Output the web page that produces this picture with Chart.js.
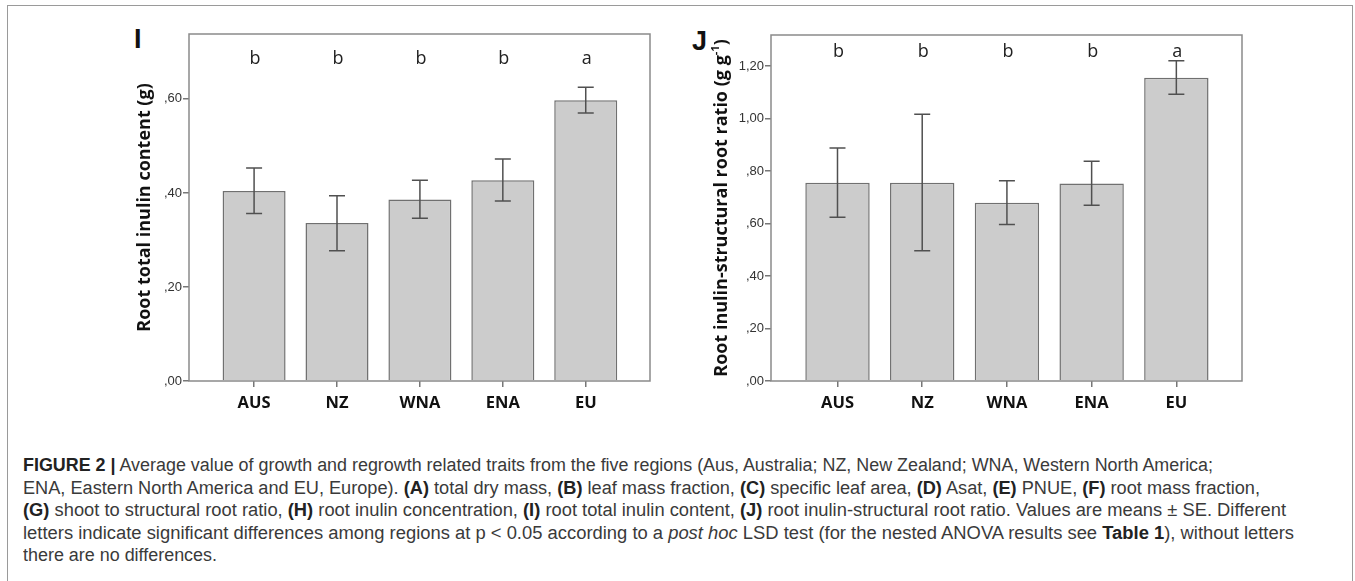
<!DOCTYPE html>
<html>
<head>
<meta charset="utf-8">
<script src="https://cdn.jsdelivr.net/npm/chart.js@4.4.0/dist/chart.umd.min.js"></script>
<style>
  body { margin: 0; background: #fff; width: 1355px; height: 581px; overflow: hidden; position: relative; font-family: "Open Sans", sans-serif; }
  .frame { position: absolute; left: 7px; top: 5px; width: 1344px; height: 600px; border: 1.5px solid #9a9a9a; border-bottom: none; }
  .panel { position: absolute; font-family: "Liberation Sans", Arial, sans-serif; font-weight: bold; font-size: 27px; color: #111; line-height: 1; }
  canvas { position: absolute; }
  .caption { position: absolute; left: 23px; top: 454px; font-family: "Liberation Sans", Arial, sans-serif; font-size: 18px; line-height: 22.6px; color: #3a3a3a; white-space: nowrap; }
  .caption .line { display: block; height: 22.6px; }
  .caption .line span { display: inline-block; transform-origin: 0 50%; }
  .caption b { color: #222; }
</style>
</head>
<body>
<div class="frame"></div>
<div class="panel" style="left:134px; top:26px;">I</div>
<div class="panel" style="left:692px; top:28px;">J</div>
<canvas id="chartI" width="570" height="420" style="left:100px; top:20px;"></canvas>
<canvas id="chartJ" width="580" height="420" style="left:680px; top:20px;"></canvas>
<div class="caption">
<div class="line"><span data-w="1190"><b>FIGURE 2 |</b> Average value of growth and regrowth related traits from the five regions (Aus, Australia; NZ, New Zealand; WNA, Western North America;</span></div>
<div class="line"><span data-w="1237">ENA, Eastern North America and EU, Europe). <b>(A)</b> total dry mass, <b>(B)</b> leaf mass fraction, <b>(C)</b> specific leaf area, <b>(D)</b> Asat, <b>(E)</b> PNUE, <b>(F)</b> root mass fraction,</span></div>
<div class="line"><span data-w="1263"><b>(G)</b> shoot to structural root ratio, <b>(H)</b> root inulin concentration, <b>(I)</b> root total inulin content, <b>(J)</b> root inulin-structural root ratio. Values are means ± SE. Different</span></div>
<div class="line"><span data-w="1271">letters indicate significant differences among regions at p &lt; 0.05 according to a <i>post hoc</i> LSD test (for the nested ANOVA results see <b>Table 1</b>), without letters</span></div>
<div class="line"><span data-w="194">there are no differences.</span></div>
</div>
<script>
// data
const categories = ['AUS', 'NZ', 'WNA', 'ENA', 'EU'];
const letters = ['b', 'b', 'b', 'b', 'a'];

const inulinContent = [0.404, 0.336, 0.386, 0.427, 0.597];
const inulinContentLow = [0.356, 0.277, 0.346, 0.383, 0.570];
const inulinContentHigh = [0.453, 0.394, 0.427, 0.472, 0.625];
const inulinContentTicks = [0, 0.2, 0.4, 0.6];

const inulinRatio = [0.755, 0.755, 0.679, 0.752, 1.155];
const inulinRatioLow = [0.624, 0.496, 0.596, 0.669, 1.092];
const inulinRatioHigh = [0.888, 1.016, 0.763, 0.837, 1.220];
const inulinRatioTicks = [0, 0.2, 0.4, 0.6, 0.8, 1.0, 1.2];

// the caption font is narrower in the original, squeeze each line to its width
document.querySelectorAll('.caption .line span').forEach(function (el) {
  const w = el.getBoundingClientRect().width;
  el.style.transform = 'scaleX(' + (parseFloat(el.dataset.w) / w) + ')';
});

// SPSS style labels: ",60" and "1,20"
function fmt(v) {
  let s = v.toFixed(2).replace('.', ',');
  if (s.startsWith('0,')) s = s.slice(1);
  return s;
}

function makeChart(id, values, low, high, ticks, yMax, title, supText, opts) {
  const extras = {
    id: 'extras',
    afterDatasetsDraw(chart) {
      const ctx = chart.ctx;
      const xs = chart.scales.x, ys = chart.scales.y;
      const area = chart.chartArea;
      ctx.save();
      // error bars
      ctx.strokeStyle = '#505050';
      ctx.lineWidth = 1.5;
      for (let i = 0; i < values.length; i++) {
        const x = xs.getPixelForValue(i);
        const yl = ys.getPixelForValue(low[i]);
        const yh = ys.getPixelForValue(high[i]);
        ctx.beginPath();
        ctx.moveTo(x, yl); ctx.lineTo(x, yh);
        ctx.moveTo(x - 8, yl); ctx.lineTo(x + 8, yl);
        ctx.moveTo(x - 8, yh); ctx.lineTo(x + 8, yh);
        ctx.stroke();
      }
      // significance letters
      ctx.fillStyle = '#222';
      ctx.font = '18px "Open Sans"';
      ctx.textAlign = 'center';
      ctx.textBaseline = 'middle';
      for (let i = 0; i < letters.length; i++) {
        ctx.fillText(letters[i], xs.getPixelForValue(i) + 1, area.top + opts.letterOffset);
      }
      // plot frame
      ctx.strokeStyle = '#8a8a8a';
      ctx.lineWidth = 1.5;
      ctx.strokeRect(area.left, area.top, area.right - area.left, area.bottom - area.top);
      // y axis title
      ctx.translate(area.left - opts.titleOffset, (area.top + area.bottom) / 2);
      ctx.rotate(-Math.PI / 2);
      ctx.fillStyle = '#111';
      const big = 'bold 18px "Open Sans"';
      const small = 'bold 11px "Open Sans"';
      ctx.font = big;
      ctx.textBaseline = 'middle';
      const wMain = ctx.measureText(title).width;
      let wSup = 0, wEnd = 0;
      if (supText) {
        wEnd = ctx.measureText(')').width;
        ctx.font = small;
        wSup = ctx.measureText(supText).width;
      }
      const x0 = -(wMain + wSup + wEnd) / 2;
      ctx.textAlign = 'left';
      ctx.font = big;
      ctx.fillText(title, x0, 0);
      if (supText) {
        ctx.font = small;
        ctx.fillText(supText, x0 + wMain, -6);
        ctx.font = big;
        ctx.fillText(')', x0 + wMain + wSup, 0);
      }
      ctx.restore();
    }
  };

  return new Chart(document.getElementById(id), {
    type: 'bar',
    data: {
      datasets: [{
        data: values.map((v, i) => ({ x: i, y: v })),
        backgroundColor: '#cccccc',
        borderColor: '#707070',
        borderWidth: 1.5,
        categoryPercentage: 1,
        barPercentage: 0.76
      }]
    },
    options: {
      responsive: false,
      animation: false,
      layout: { padding: { left: 0, top: opts.padTop, right: opts.padRight, bottom: 0 } },
      plugins: { legend: { display: false }, tooltip: { enabled: false } },
      scales: {
        x: {
          type: 'linear',
          offset: false,
          min: -0.785,
          max: 4.775,
          afterBuildTicks: (axis) => { axis.ticks = categories.map((c, i) => ({ value: i })); },
          afterFit: (axis) => { axis.height = 59; },
          ticks: {
            callback: (v) => categories[v],
            font: { family: 'Open Sans', weight: 'bold', size: 16.5 },
            color: '#111',
            padding: 6,
            maxRotation: 0
          },
          grid: { offset: false, drawOnChartArea: false, tickLength: 6, color: '#777', lineWidth: 1.5 },
          border: { display: false }
        },
        y: {
          min: 0,
          max: yMax,
          afterBuildTicks: (axis) => { axis.ticks = ticks.map((t) => ({ value: t })); },
          afterFit: (axis) => { axis.width = opts.axisWidth; },
          ticks: {
            callback: (v) => fmt(v),
            font: { family: 'Liberation Sans', size: 13 },
            color: '#333',
            padding: 1
          },
          grid: { drawOnChartArea: false, tickLength: 6, color: '#777', lineWidth: 1.5 },
          border: { display: false }
        }
      }
    },
    plugins: [extras]
  });
}

makeChart('chartI', inulinContent, inulinContentLow, inulinContentHigh, inulinContentTicks, 0.738,
  'Root total inulin content (g)', null,
  { padTop: 14, padRight: 20, axisWidth: 89, letterOffset: 25, titleOffset: 44 });

makeChart('chartJ', inulinRatio, inulinRatioLow, inulinRatioHigh, inulinRatioTicks, 1.318,
  'Root inulin-structural root ratio (g g', '-1',
  { padTop: 15, padRight: 18, axisWidth: 91, letterOffset: 17, titleOffset: 49 });
</script>
</body>
</html>
